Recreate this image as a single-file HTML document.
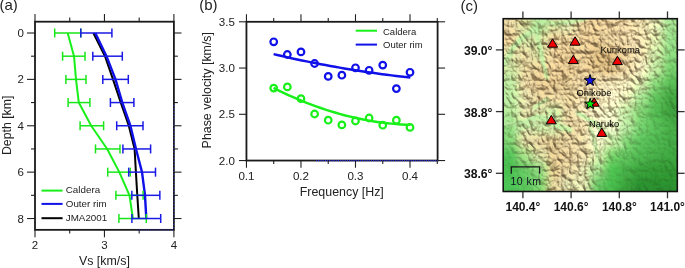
<!DOCTYPE html>
<html><head><meta charset="utf-8"><style>
html,body{margin:0;padding:0;background:#fff;width:685px;height:268px;overflow:hidden}
svg{display:block;will-change:transform}
text{font-family:"Liberation Sans",sans-serif}
</style></head><body>
<svg width="685" height="268" viewBox="0 0 685 268">
<text x="-0.60" y="10.40" font-size="15" text-anchor="start" fill="#222" >(a)</text>
<line x1="35.00" y1="21.70" x2="35.00" y2="14.10" stroke="#222" stroke-width="1.1" />
<line x1="35.00" y1="229.85" x2="35.00" y2="237.35" stroke="#222" stroke-width="1.1" />
<line x1="104.45" y1="21.70" x2="104.45" y2="14.10" stroke="#222" stroke-width="1.1" />
<line x1="104.45" y1="229.85" x2="104.45" y2="237.35" stroke="#222" stroke-width="1.1" />
<line x1="173.90" y1="21.70" x2="173.90" y2="14.10" stroke="#222" stroke-width="1.1" />
<line x1="173.90" y1="229.85" x2="173.90" y2="237.35" stroke="#222" stroke-width="1.1" />
<line x1="69.72" y1="21.70" x2="69.72" y2="17.40" stroke="#222" stroke-width="1.1" />
<line x1="69.72" y1="229.85" x2="69.72" y2="233.55" stroke="#222" stroke-width="1.1" />
<line x1="139.18" y1="21.70" x2="139.18" y2="17.40" stroke="#222" stroke-width="1.1" />
<line x1="139.18" y1="229.85" x2="139.18" y2="233.55" stroke="#222" stroke-width="1.1" />
<line x1="35.00" y1="33.00" x2="27.00" y2="33.00" stroke="#222" stroke-width="1.1" />
<line x1="173.90" y1="33.00" x2="181.50" y2="33.00" stroke="#222" stroke-width="1.1" />
<line x1="35.00" y1="79.38" x2="27.00" y2="79.38" stroke="#222" stroke-width="1.1" />
<line x1="173.90" y1="79.38" x2="181.50" y2="79.38" stroke="#222" stroke-width="1.1" />
<line x1="35.00" y1="125.76" x2="27.00" y2="125.76" stroke="#222" stroke-width="1.1" />
<line x1="173.90" y1="125.76" x2="181.50" y2="125.76" stroke="#222" stroke-width="1.1" />
<line x1="35.00" y1="172.14" x2="27.00" y2="172.14" stroke="#222" stroke-width="1.1" />
<line x1="173.90" y1="172.14" x2="181.50" y2="172.14" stroke="#222" stroke-width="1.1" />
<line x1="35.00" y1="218.52" x2="27.00" y2="218.52" stroke="#222" stroke-width="1.1" />
<line x1="173.90" y1="218.52" x2="181.50" y2="218.52" stroke="#222" stroke-width="1.1" />
<line x1="35.00" y1="56.19" x2="31.00" y2="56.19" stroke="#222" stroke-width="1.1" />
<line x1="173.90" y1="56.19" x2="177.90" y2="56.19" stroke="#222" stroke-width="1.1" />
<line x1="35.00" y1="102.57" x2="31.00" y2="102.57" stroke="#222" stroke-width="1.1" />
<line x1="173.90" y1="102.57" x2="177.90" y2="102.57" stroke="#222" stroke-width="1.1" />
<line x1="35.00" y1="148.95" x2="31.00" y2="148.95" stroke="#222" stroke-width="1.1" />
<line x1="173.90" y1="148.95" x2="177.90" y2="148.95" stroke="#222" stroke-width="1.1" />
<line x1="35.00" y1="195.33" x2="31.00" y2="195.33" stroke="#222" stroke-width="1.1" />
<line x1="173.90" y1="195.33" x2="177.90" y2="195.33" stroke="#222" stroke-width="1.1" />
<text x="23.80" y="37.00" font-size="11.5" text-anchor="end" fill="#222" >0</text>
<text x="23.80" y="83.38" font-size="11.5" text-anchor="end" fill="#222" >2</text>
<text x="23.80" y="129.76" font-size="11.5" text-anchor="end" fill="#222" >4</text>
<text x="23.80" y="176.14" font-size="11.5" text-anchor="end" fill="#222" >6</text>
<text x="23.80" y="222.52" font-size="11.5" text-anchor="end" fill="#222" >8</text>
<text x="35.00" y="249.20" font-size="11.5" text-anchor="middle" fill="#222" >2</text>
<text x="104.45" y="249.20" font-size="11.5" text-anchor="middle" fill="#222" >3</text>
<text x="173.90" y="249.20" font-size="11.5" text-anchor="middle" fill="#222" >4</text>
<text x="104.40" y="265.20" font-size="12.4" text-anchor="middle" fill="#222" >Vs [km/s]</text>
<text transform="translate(11.4,125.3) rotate(-90)" font-size="12.3" text-anchor="middle" fill="#222">Depth [km]</text>
<polyline points="67.70,33.00 74.00,56.19 76.00,79.38 78.80,102.57 91.20,125.76 107.20,148.95 119.30,172.14 129.50,195.33 132.90,218.52" fill="none" stroke="#19f019" stroke-width="2.0" stroke-linejoin="round"/>
<polyline points="93.40,33.00 105.00,56.19 113.00,79.38 120.80,102.57 128.80,125.76 134.60,148.95 135.90,172.14 137.30,195.33 138.80,218.52" fill="none" stroke="#000" stroke-width="2.0" stroke-linejoin="round"/>
<polyline points="95.30,33.00 106.50,56.19 115.50,79.38 122.30,102.57 130.40,125.76 136.00,148.95 142.00,172.14 145.00,195.33 146.30,218.52" fill="none" stroke="#1010e8" stroke-width="2.4" stroke-linejoin="round"/>
<line x1="54.70" y1="33.00" x2="80.80" y2="33.00" stroke="#19e619" stroke-width="1.5" />
<line x1="54.70" y1="28.50" x2="54.70" y2="37.50" stroke="#19e619" stroke-width="1.5" />
<line x1="80.80" y1="28.50" x2="80.80" y2="37.50" stroke="#19e619" stroke-width="1.5" />
<line x1="62.60" y1="56.19" x2="85.00" y2="56.19" stroke="#19e619" stroke-width="1.5" />
<line x1="62.60" y1="51.69" x2="62.60" y2="60.69" stroke="#19e619" stroke-width="1.5" />
<line x1="85.00" y1="51.69" x2="85.00" y2="60.69" stroke="#19e619" stroke-width="1.5" />
<line x1="65.90" y1="79.38" x2="86.00" y2="79.38" stroke="#19e619" stroke-width="1.5" />
<line x1="65.90" y1="74.88" x2="65.90" y2="83.88" stroke="#19e619" stroke-width="1.5" />
<line x1="86.00" y1="74.88" x2="86.00" y2="83.88" stroke="#19e619" stroke-width="1.5" />
<line x1="68.10" y1="102.57" x2="89.90" y2="102.57" stroke="#19e619" stroke-width="1.5" />
<line x1="68.10" y1="98.07" x2="68.10" y2="107.07" stroke="#19e619" stroke-width="1.5" />
<line x1="89.90" y1="98.07" x2="89.90" y2="107.07" stroke="#19e619" stroke-width="1.5" />
<line x1="80.10" y1="125.76" x2="103.60" y2="125.76" stroke="#19e619" stroke-width="1.5" />
<line x1="80.10" y1="121.26" x2="80.10" y2="130.26" stroke="#19e619" stroke-width="1.5" />
<line x1="103.60" y1="121.26" x2="103.60" y2="130.26" stroke="#19e619" stroke-width="1.5" />
<line x1="95.50" y1="148.95" x2="120.00" y2="148.95" stroke="#19e619" stroke-width="1.5" />
<line x1="95.50" y1="144.45" x2="95.50" y2="153.45" stroke="#19e619" stroke-width="1.5" />
<line x1="120.00" y1="144.45" x2="120.00" y2="153.45" stroke="#19e619" stroke-width="1.5" />
<line x1="107.70" y1="172.14" x2="130.30" y2="172.14" stroke="#19e619" stroke-width="1.5" />
<line x1="107.70" y1="167.64" x2="107.70" y2="176.64" stroke="#19e619" stroke-width="1.5" />
<line x1="130.30" y1="167.64" x2="130.30" y2="176.64" stroke="#19e619" stroke-width="1.5" />
<line x1="115.90" y1="195.33" x2="143.10" y2="195.33" stroke="#19e619" stroke-width="1.5" />
<line x1="115.90" y1="190.83" x2="115.90" y2="199.83" stroke="#19e619" stroke-width="1.5" />
<line x1="143.10" y1="190.83" x2="143.10" y2="199.83" stroke="#19e619" stroke-width="1.5" />
<line x1="118.90" y1="218.52" x2="146.30" y2="218.52" stroke="#19e619" stroke-width="1.5" />
<line x1="118.90" y1="214.02" x2="118.90" y2="223.02" stroke="#19e619" stroke-width="1.5" />
<line x1="146.30" y1="214.02" x2="146.30" y2="223.02" stroke="#19e619" stroke-width="1.5" />
<line x1="80.80" y1="33.00" x2="111.90" y2="33.00" stroke="#1a1ae6" stroke-width="1.5" />
<line x1="80.80" y1="28.50" x2="80.80" y2="37.50" stroke="#1a1ae6" stroke-width="1.5" />
<line x1="111.90" y1="28.50" x2="111.90" y2="37.50" stroke="#1a1ae6" stroke-width="1.5" />
<line x1="92.80" y1="56.19" x2="122.30" y2="56.19" stroke="#1a1ae6" stroke-width="1.5" />
<line x1="92.80" y1="51.69" x2="92.80" y2="60.69" stroke="#1a1ae6" stroke-width="1.5" />
<line x1="122.30" y1="51.69" x2="122.30" y2="60.69" stroke="#1a1ae6" stroke-width="1.5" />
<line x1="102.80" y1="79.38" x2="128.30" y2="79.38" stroke="#1a1ae6" stroke-width="1.5" />
<line x1="102.80" y1="74.88" x2="102.80" y2="83.88" stroke="#1a1ae6" stroke-width="1.5" />
<line x1="128.30" y1="74.88" x2="128.30" y2="83.88" stroke="#1a1ae6" stroke-width="1.5" />
<line x1="110.40" y1="102.57" x2="133.90" y2="102.57" stroke="#1a1ae6" stroke-width="1.5" />
<line x1="110.40" y1="98.07" x2="110.40" y2="107.07" stroke="#1a1ae6" stroke-width="1.5" />
<line x1="133.90" y1="98.07" x2="133.90" y2="107.07" stroke="#1a1ae6" stroke-width="1.5" />
<line x1="116.70" y1="125.76" x2="143.00" y2="125.76" stroke="#1a1ae6" stroke-width="1.5" />
<line x1="116.70" y1="121.26" x2="116.70" y2="130.26" stroke="#1a1ae6" stroke-width="1.5" />
<line x1="143.00" y1="121.26" x2="143.00" y2="130.26" stroke="#1a1ae6" stroke-width="1.5" />
<line x1="122.90" y1="148.95" x2="150.60" y2="148.95" stroke="#1a1ae6" stroke-width="1.5" />
<line x1="122.90" y1="144.45" x2="122.90" y2="153.45" stroke="#1a1ae6" stroke-width="1.5" />
<line x1="150.60" y1="144.45" x2="150.60" y2="153.45" stroke="#1a1ae6" stroke-width="1.5" />
<line x1="128.70" y1="172.14" x2="155.50" y2="172.14" stroke="#1a1ae6" stroke-width="1.5" />
<line x1="128.70" y1="167.64" x2="128.70" y2="176.64" stroke="#1a1ae6" stroke-width="1.5" />
<line x1="155.50" y1="167.64" x2="155.50" y2="176.64" stroke="#1a1ae6" stroke-width="1.5" />
<line x1="131.85" y1="195.33" x2="159.85" y2="195.33" stroke="#1a1ae6" stroke-width="1.5" />
<line x1="131.85" y1="190.83" x2="131.85" y2="199.83" stroke="#1a1ae6" stroke-width="1.5" />
<line x1="159.85" y1="190.83" x2="159.85" y2="199.83" stroke="#1a1ae6" stroke-width="1.5" />
<line x1="131.90" y1="218.52" x2="160.70" y2="218.52" stroke="#1a1ae6" stroke-width="1.5" />
<line x1="131.90" y1="214.02" x2="131.90" y2="223.02" stroke="#1a1ae6" stroke-width="1.5" />
<line x1="160.70" y1="214.02" x2="160.70" y2="223.02" stroke="#1a1ae6" stroke-width="1.5" />
<rect x="35.0" y="21.7" width="138.9" height="208.15" fill="none" stroke="#1a1a1a" stroke-width="1.8"/>
<line x1="137" y1="229.85" x2="173.9" y2="229.85" stroke="#2424e0" stroke-width="1.3" stroke-dasharray="1.1 1.1" opacity="0.6"/>
<line x1="173.9" y1="105" x2="173.9" y2="229.85" stroke="#3a3ad0" stroke-width="1.2" stroke-dasharray="1.1 2.2" opacity="0.8"/>
<line x1="41.50" y1="190.60" x2="62.60" y2="190.60" stroke="#19f019" stroke-width="2" />
<text x="65.80" y="193.40" font-size="9.8" text-anchor="start" fill="#222" >Caldera</text>
<line x1="41.50" y1="203.90" x2="62.60" y2="203.90" stroke="#1010e8" stroke-width="2" />
<text x="65.80" y="206.70" font-size="9.8" text-anchor="start" fill="#222" >Outer rim</text>
<line x1="41.50" y1="218.20" x2="62.60" y2="218.20" stroke="#000" stroke-width="2" />
<text x="65.80" y="220.90" font-size="9.8" text-anchor="start" fill="#222" >JMA2001</text>
<text x="199.20" y="10.40" font-size="15" text-anchor="start" fill="#222" >(b)</text>
<line x1="246.45" y1="21.80" x2="246.45" y2="14.20" stroke="#222" stroke-width="1.1" />
<line x1="246.45" y1="160.55" x2="246.45" y2="167.75" stroke="#222" stroke-width="1.1" />
<line x1="300.97" y1="21.80" x2="300.97" y2="14.20" stroke="#222" stroke-width="1.1" />
<line x1="300.97" y1="160.55" x2="300.97" y2="167.75" stroke="#222" stroke-width="1.1" />
<line x1="355.49" y1="21.80" x2="355.49" y2="14.20" stroke="#222" stroke-width="1.1" />
<line x1="355.49" y1="160.55" x2="355.49" y2="167.75" stroke="#222" stroke-width="1.1" />
<line x1="410.01" y1="21.80" x2="410.01" y2="14.20" stroke="#222" stroke-width="1.1" />
<line x1="410.01" y1="160.55" x2="410.01" y2="167.75" stroke="#222" stroke-width="1.1" />
<line x1="273.71" y1="21.80" x2="273.71" y2="17.90" stroke="#222" stroke-width="1.1" />
<line x1="273.71" y1="160.55" x2="273.71" y2="163.95" stroke="#222" stroke-width="1.1" />
<line x1="328.23" y1="21.80" x2="328.23" y2="17.90" stroke="#222" stroke-width="1.1" />
<line x1="328.23" y1="160.55" x2="328.23" y2="163.95" stroke="#222" stroke-width="1.1" />
<line x1="382.75" y1="21.80" x2="382.75" y2="17.90" stroke="#222" stroke-width="1.1" />
<line x1="382.75" y1="160.55" x2="382.75" y2="163.95" stroke="#222" stroke-width="1.1" />
<line x1="437.27" y1="21.80" x2="437.27" y2="17.90" stroke="#222" stroke-width="1.1" />
<line x1="437.27" y1="160.55" x2="437.27" y2="163.95" stroke="#222" stroke-width="1.1" />
<line x1="246.45" y1="160.55" x2="238.95" y2="160.55" stroke="#222" stroke-width="1.1" />
<line x1="437.60" y1="160.55" x2="445.10" y2="160.55" stroke="#222" stroke-width="1.1" />
<line x1="246.45" y1="114.30" x2="238.95" y2="114.30" stroke="#222" stroke-width="1.1" />
<line x1="437.60" y1="114.30" x2="445.10" y2="114.30" stroke="#222" stroke-width="1.1" />
<line x1="246.45" y1="68.05" x2="238.95" y2="68.05" stroke="#222" stroke-width="1.1" />
<line x1="437.60" y1="68.05" x2="445.10" y2="68.05" stroke="#222" stroke-width="1.1" />
<line x1="246.45" y1="21.80" x2="238.95" y2="21.80" stroke="#222" stroke-width="1.1" />
<line x1="437.60" y1="21.80" x2="445.10" y2="21.80" stroke="#222" stroke-width="1.1" />
<text x="234.90" y="164.55" font-size="11.6" text-anchor="end" fill="#222" >2.0</text>
<text x="234.90" y="118.30" font-size="11.6" text-anchor="end" fill="#222" >2.5</text>
<text x="234.90" y="72.05" font-size="11.6" text-anchor="end" fill="#222" >3.0</text>
<text x="234.90" y="25.80" font-size="11.6" text-anchor="end" fill="#222" >3.5</text>
<text x="246.45" y="179.80" font-size="11.6" text-anchor="middle" fill="#222" >0.1</text>
<text x="300.97" y="179.80" font-size="11.6" text-anchor="middle" fill="#222" >0.2</text>
<text x="355.49" y="179.80" font-size="11.6" text-anchor="middle" fill="#222" >0.3</text>
<text x="410.01" y="179.80" font-size="11.6" text-anchor="middle" fill="#222" >0.4</text>
<text x="341.80" y="196.20" font-size="12.4" text-anchor="middle" fill="#222" >Frequency [Hz]</text>
<text transform="translate(211.3,90.2) rotate(-90)" font-size="12.4" text-anchor="middle" fill="#222">Phase velocity [km/s]</text>
<polyline points="273.60,87.96 278.32,90.32 283.03,92.60 287.75,94.80 292.47,96.93 297.19,98.97 301.90,100.94 306.62,102.84 311.34,104.65 316.06,106.39 320.77,108.05 325.49,109.63 330.21,111.13 334.92,112.56 339.64,113.91 344.36,115.18 349.08,116.38 353.79,117.49 358.51,118.53 363.23,119.49 367.94,120.38 372.66,121.18 377.38,121.91 382.10,122.56 386.81,123.14 391.53,123.63 396.25,124.05 400.97,124.39 405.68,124.66 410.40,124.84" fill="none" stroke="#19f019" stroke-width="2.5"/>
<polyline points="273.60,54.13 278.32,55.23 283.03,56.31 287.75,57.37 292.47,58.41 297.19,59.42 301.90,60.42 306.62,61.39 311.34,62.35 316.06,63.28 320.77,64.19 325.49,65.08 330.21,65.95 334.92,66.80 339.64,67.63 344.36,68.44 349.08,69.23 353.79,70.00 358.51,70.74 363.23,71.47 367.94,72.17 372.66,72.85 377.38,73.52 382.10,74.16 386.81,74.78 391.53,75.38 396.25,75.96 400.97,76.52 405.68,77.05 410.40,77.57" fill="none" stroke="#1010e8" stroke-width="2.5"/>
<circle cx="273.71" cy="41.80" r="3.3" fill="none" stroke="#1010e8" stroke-width="2.2"/>
<circle cx="273.71" cy="88.10" r="3.3" fill="none" stroke="#19f019" stroke-width="2.2"/>
<circle cx="287.34" cy="54.50" r="3.3" fill="none" stroke="#1010e8" stroke-width="2.2"/>
<circle cx="287.34" cy="86.90" r="3.3" fill="none" stroke="#19f019" stroke-width="2.2"/>
<circle cx="300.97" cy="51.90" r="3.3" fill="none" stroke="#1010e8" stroke-width="2.2"/>
<circle cx="300.97" cy="98.70" r="3.3" fill="none" stroke="#19f019" stroke-width="2.2"/>
<circle cx="314.60" cy="63.50" r="3.3" fill="none" stroke="#1010e8" stroke-width="2.2"/>
<circle cx="314.60" cy="114.00" r="3.3" fill="none" stroke="#19f019" stroke-width="2.2"/>
<circle cx="328.23" cy="76.40" r="3.3" fill="none" stroke="#1010e8" stroke-width="2.2"/>
<circle cx="328.23" cy="120.20" r="3.3" fill="none" stroke="#19f019" stroke-width="2.2"/>
<circle cx="341.86" cy="75.20" r="3.3" fill="none" stroke="#1010e8" stroke-width="2.2"/>
<circle cx="341.86" cy="124.90" r="3.3" fill="none" stroke="#19f019" stroke-width="2.2"/>
<circle cx="355.49" cy="67.80" r="3.3" fill="none" stroke="#1010e8" stroke-width="2.2"/>
<circle cx="355.49" cy="121.00" r="3.3" fill="none" stroke="#19f019" stroke-width="2.2"/>
<circle cx="369.12" cy="70.30" r="3.3" fill="none" stroke="#1010e8" stroke-width="2.2"/>
<circle cx="369.12" cy="118.00" r="3.3" fill="none" stroke="#19f019" stroke-width="2.2"/>
<circle cx="382.75" cy="65.10" r="3.3" fill="none" stroke="#1010e8" stroke-width="2.2"/>
<circle cx="382.75" cy="125.20" r="3.3" fill="none" stroke="#19f019" stroke-width="2.2"/>
<circle cx="396.38" cy="88.60" r="3.3" fill="none" stroke="#1010e8" stroke-width="2.2"/>
<circle cx="396.38" cy="120.20" r="3.3" fill="none" stroke="#19f019" stroke-width="2.2"/>
<circle cx="410.01" cy="72.30" r="3.3" fill="none" stroke="#1010e8" stroke-width="2.2"/>
<circle cx="410.01" cy="127.40" r="3.3" fill="none" stroke="#19f019" stroke-width="2.2"/>
<rect x="246.45" y="21.8" width="191.15000000000003" height="138.75" fill="none" stroke="#1a1a1a" stroke-width="1.8"/>
<line x1="316" y1="160.55" x2="437.6" y2="160.55" stroke="#2424e0" stroke-width="1.3" stroke-dasharray="1.1 1.1"/>
<line x1="355.70" y1="30.70" x2="377.00" y2="30.70" stroke="#19f019" stroke-width="2" />
<text x="383.00" y="34.50" font-size="9.5" text-anchor="start" fill="#222" >Caldera</text>
<line x1="355.70" y1="44.60" x2="377.00" y2="44.60" stroke="#1010e8" stroke-width="2" />
<text x="383.00" y="48.00" font-size="9.5" text-anchor="start" fill="#222" >Outer rim</text>
<text x="460.50" y="10.60" font-size="15" text-anchor="start" fill="#222" >(c)</text>
<defs>
<clipPath id="mc"><rect x="503.2" y="18.7" width="174.10" height="172.80"/></clipPath>
<filter id="mb" x="-10%" y="-10%" width="120%" height="120%"><feGaussianBlur stdDeviation="4.5"/></filter>
<filter id="vb" x="-10%" y="-10%" width="120%" height="120%"><feGaussianBlur stdDeviation="1.3"/></filter>
<filter id="hs" x="0" y="0" width="100%" height="100%" color-interpolation-filters="sRGB"><feTurbulence type="turbulence" baseFrequency="0.13 0.11" numOctaves="4" seed="3" result="n"/><feDiffuseLighting in="n" surfaceScale="3.6" diffuseConstant="1.0" lighting-color="#fff" result="l0"><feDistantLight azimuth="300" elevation="50"/></feDiffuseLighting><feComponentTransfer in="l0" result="l"><feFuncR type="gamma" amplitude="1" exponent="0.9" offset="0"/><feFuncG type="gamma" amplitude="1.1" exponent="1.05" offset="0"/><feFuncB type="gamma" amplitude="1.25" exponent="1.3" offset="0"/></feComponentTransfer><feComposite in="SourceGraphic" in2="l" operator="arithmetic" k1="0.72" k2="0.55" k3="0" k4="0" result="tex"/><feColorMatrix in="SourceGraphic" type="matrix" values="0 0 0 0 0  0 0 0 0 0  0 0 0 0 0  2 -2 0 0 1.0" result="m"/><feComposite in="tex" in2="m" operator="in" result="tm"/><feMerge><feMergeNode in="SourceGraphic"/><feMergeNode in="tm"/></feMerge></filter>
</defs>
<g clip-path="url(#mc)">
<g filter="url(#hs)">
<g filter="url(#mb)">
<rect x="495.20" y="10.70" width="23.01" height="22.90" fill="#c8b385"/>
<rect x="517.71" y="10.70" width="15.01" height="22.90" fill="#b9b982"/>
<rect x="532.22" y="10.70" width="15.01" height="22.90" fill="#a0c882"/>
<rect x="546.73" y="10.70" width="15.01" height="22.90" fill="#b9b982"/>
<rect x="561.23" y="10.70" width="15.01" height="22.90" fill="#bec08f"/>
<rect x="575.74" y="10.70" width="15.01" height="22.90" fill="#cdb080"/>
<rect x="590.25" y="10.70" width="15.01" height="22.90" fill="#cdb080"/>
<rect x="604.76" y="10.70" width="15.01" height="22.90" fill="#cdb385"/>
<rect x="619.27" y="10.70" width="15.01" height="22.90" fill="#d2b88a"/>
<rect x="633.77" y="10.70" width="15.01" height="22.90" fill="#d4c294"/>
<rect x="648.28" y="10.70" width="15.01" height="22.90" fill="#c8c799"/>
<rect x="662.79" y="10.70" width="22.51" height="22.90" fill="#96cd82"/>
<rect x="495.20" y="33.10" width="23.01" height="14.90" fill="#cdb080"/>
<rect x="517.71" y="33.10" width="15.01" height="14.90" fill="#b4be87"/>
<rect x="532.22" y="33.10" width="15.01" height="14.90" fill="#b9bc84"/>
<rect x="546.73" y="33.10" width="15.01" height="14.90" fill="#cdb080"/>
<rect x="561.23" y="33.10" width="15.01" height="14.90" fill="#cdb080"/>
<rect x="575.74" y="33.10" width="15.01" height="14.90" fill="#cdb080"/>
<rect x="590.25" y="33.10" width="15.01" height="14.90" fill="#c8ac7b"/>
<rect x="604.76" y="33.10" width="15.01" height="14.90" fill="#cdb385"/>
<rect x="619.27" y="33.10" width="15.01" height="14.90" fill="#d2ba8f"/>
<rect x="633.77" y="33.10" width="15.01" height="14.90" fill="#d4c094"/>
<rect x="648.28" y="33.10" width="15.01" height="14.90" fill="#c3c891"/>
<rect x="662.79" y="33.10" width="22.51" height="14.90" fill="#8ccd7d"/>
<rect x="495.20" y="47.50" width="23.01" height="14.90" fill="#bebd8a"/>
<rect x="517.71" y="47.50" width="15.01" height="14.90" fill="#c8b685"/>
<rect x="532.22" y="47.50" width="15.01" height="14.90" fill="#b9bc84"/>
<rect x="546.73" y="47.50" width="15.01" height="14.90" fill="#cdb080"/>
<rect x="561.23" y="47.50" width="15.01" height="14.90" fill="#c6a978"/>
<rect x="575.74" y="47.50" width="15.01" height="14.90" fill="#cdb080"/>
<rect x="590.25" y="47.50" width="15.01" height="14.90" fill="#be9f6c"/>
<rect x="604.76" y="47.50" width="15.01" height="14.90" fill="#bc9c6a"/>
<rect x="619.27" y="47.50" width="15.01" height="14.90" fill="#c8ae80"/>
<rect x="633.77" y="47.50" width="15.01" height="14.90" fill="#d2c094"/>
<rect x="648.28" y="47.50" width="15.01" height="14.90" fill="#b9cd91"/>
<rect x="662.79" y="47.50" width="22.51" height="14.90" fill="#82c873"/>
<rect x="495.20" y="61.90" width="23.01" height="14.90" fill="#b2c387"/>
<rect x="517.71" y="61.90" width="15.01" height="14.90" fill="#c8b685"/>
<rect x="532.22" y="61.90" width="15.01" height="14.90" fill="#c8ae7e"/>
<rect x="546.73" y="61.90" width="15.01" height="14.90" fill="#cdb080"/>
<rect x="561.23" y="61.90" width="15.01" height="14.90" fill="#c6a978"/>
<rect x="575.74" y="61.90" width="15.01" height="14.90" fill="#cdb080"/>
<rect x="590.25" y="61.90" width="15.01" height="14.90" fill="#c3a471"/>
<rect x="604.76" y="61.90" width="15.01" height="14.90" fill="#be9f6c"/>
<rect x="619.27" y="61.90" width="15.01" height="14.90" fill="#cdb688"/>
<rect x="633.77" y="61.90" width="15.01" height="14.90" fill="#d4c79e"/>
<rect x="648.28" y="61.90" width="15.01" height="14.90" fill="#afcd8c"/>
<rect x="662.79" y="61.90" width="22.51" height="14.90" fill="#6ec364"/>
<rect x="495.20" y="76.30" width="23.01" height="14.90" fill="#a8cd8a"/>
<rect x="517.71" y="76.30" width="15.01" height="14.90" fill="#cdb688"/>
<rect x="532.22" y="76.30" width="15.01" height="14.90" fill="#c6aa7a"/>
<rect x="546.73" y="76.30" width="15.01" height="14.90" fill="#c3a674"/>
<rect x="561.23" y="76.30" width="15.01" height="14.90" fill="#c8ae7e"/>
<rect x="575.74" y="76.30" width="15.01" height="14.90" fill="#cdb68a"/>
<rect x="590.25" y="76.30" width="15.01" height="14.90" fill="#d2bd92"/>
<rect x="604.76" y="76.30" width="15.01" height="14.90" fill="#d7c79e"/>
<rect x="619.27" y="76.30" width="15.01" height="14.90" fill="#d7caa0"/>
<rect x="633.77" y="76.30" width="15.01" height="14.90" fill="#c3cd96"/>
<rect x="648.28" y="76.30" width="15.01" height="14.90" fill="#7dc86e"/>
<rect x="662.79" y="76.30" width="22.51" height="14.90" fill="#55b450"/>
<rect x="495.20" y="90.70" width="23.01" height="14.90" fill="#a8d28c"/>
<rect x="517.71" y="90.70" width="15.01" height="14.90" fill="#c6bd8f"/>
<rect x="532.22" y="90.70" width="15.01" height="14.90" fill="#c8b080"/>
<rect x="546.73" y="90.70" width="15.01" height="14.90" fill="#cdb688"/>
<rect x="561.23" y="90.70" width="15.01" height="14.90" fill="#c8b080"/>
<rect x="575.74" y="90.70" width="15.01" height="14.90" fill="#d2bd92"/>
<rect x="590.25" y="90.70" width="15.01" height="14.90" fill="#d7c499"/>
<rect x="604.76" y="90.70" width="15.01" height="14.90" fill="#dccea6"/>
<rect x="619.27" y="90.70" width="15.01" height="14.90" fill="#cdcd9b"/>
<rect x="633.77" y="90.70" width="15.01" height="14.90" fill="#96cd82"/>
<rect x="648.28" y="90.70" width="15.01" height="14.90" fill="#5ab955"/>
<rect x="662.79" y="90.70" width="22.51" height="14.90" fill="#41a03e"/>
<rect x="495.20" y="105.10" width="23.01" height="14.90" fill="#a5d48a"/>
<rect x="517.71" y="105.10" width="15.01" height="14.90" fill="#c3ba8a"/>
<rect x="532.22" y="105.10" width="15.01" height="14.90" fill="#bebe8a"/>
<rect x="546.73" y="105.10" width="15.01" height="14.90" fill="#b2ca8c"/>
<rect x="561.23" y="105.10" width="15.01" height="14.90" fill="#c8b385"/>
<rect x="575.74" y="105.10" width="15.01" height="14.90" fill="#d4c299"/>
<rect x="590.25" y="105.10" width="15.01" height="14.90" fill="#d7cca3"/>
<rect x="604.76" y="105.10" width="15.01" height="14.90" fill="#d2d1a6"/>
<rect x="619.27" y="105.10" width="15.01" height="14.90" fill="#afd08e"/>
<rect x="633.77" y="105.10" width="15.01" height="14.90" fill="#78c669"/>
<rect x="648.28" y="105.10" width="15.01" height="14.90" fill="#50b44e"/>
<rect x="662.79" y="105.10" width="22.51" height="14.90" fill="#3c983a"/>
<rect x="495.20" y="119.50" width="23.01" height="14.90" fill="#87ca76"/>
<rect x="517.71" y="119.50" width="15.01" height="14.90" fill="#bec08f"/>
<rect x="532.22" y="119.50" width="15.01" height="14.90" fill="#afc88a"/>
<rect x="546.73" y="119.50" width="15.01" height="14.90" fill="#b4c88c"/>
<rect x="561.23" y="119.50" width="15.01" height="14.90" fill="#c8b082"/>
<rect x="575.74" y="119.50" width="15.01" height="14.90" fill="#cdb88a"/>
<rect x="590.25" y="119.50" width="15.01" height="14.90" fill="#dcd4ab"/>
<rect x="604.76" y="119.50" width="15.01" height="14.90" fill="#d4d6ab"/>
<rect x="619.27" y="119.50" width="15.01" height="14.90" fill="#a8d08e"/>
<rect x="633.77" y="119.50" width="15.01" height="14.90" fill="#6ec666"/>
<rect x="648.28" y="119.50" width="15.01" height="14.90" fill="#58bc56"/>
<rect x="662.79" y="119.50" width="22.51" height="14.90" fill="#46aa44"/>
<rect x="495.20" y="133.90" width="23.01" height="14.90" fill="#78c86c"/>
<rect x="517.71" y="133.90" width="15.01" height="14.90" fill="#c3b888"/>
<rect x="532.22" y="133.90" width="15.01" height="14.90" fill="#c8b082"/>
<rect x="546.73" y="133.90" width="15.01" height="14.90" fill="#c3ac7c"/>
<rect x="561.23" y="133.90" width="15.01" height="14.90" fill="#c8b385"/>
<rect x="575.74" y="133.90" width="15.01" height="14.90" fill="#cab88a"/>
<rect x="590.25" y="133.90" width="15.01" height="14.90" fill="#d7d1a8"/>
<rect x="604.76" y="133.90" width="15.01" height="14.90" fill="#bcd094"/>
<rect x="619.27" y="133.90" width="15.01" height="14.90" fill="#78c66c"/>
<rect x="633.77" y="133.90" width="15.01" height="14.90" fill="#5abc58"/>
<rect x="648.28" y="133.90" width="15.01" height="14.90" fill="#4eb24e"/>
<rect x="662.79" y="133.90" width="22.51" height="14.90" fill="#44a844"/>
<rect x="495.20" y="148.30" width="23.01" height="14.90" fill="#50be55"/>
<rect x="517.71" y="148.30" width="15.01" height="14.90" fill="#96c878"/>
<rect x="532.22" y="148.30" width="15.01" height="14.90" fill="#bebd8a"/>
<rect x="546.73" y="148.30" width="15.01" height="14.90" fill="#c3a978"/>
<rect x="561.23" y="148.30" width="15.01" height="14.90" fill="#c8b082"/>
<rect x="575.74" y="148.30" width="15.01" height="14.90" fill="#cdba8f"/>
<rect x="590.25" y="148.30" width="15.01" height="14.90" fill="#c8cd96"/>
<rect x="604.76" y="148.30" width="15.01" height="14.90" fill="#6ec864"/>
<rect x="619.27" y="148.30" width="15.01" height="14.90" fill="#5fbc5a"/>
<rect x="633.77" y="148.30" width="15.01" height="14.90" fill="#4eb24e"/>
<rect x="648.28" y="148.30" width="15.01" height="14.90" fill="#44a844"/>
<rect x="662.79" y="148.30" width="22.51" height="14.90" fill="#3ea23e"/>
<rect x="495.20" y="162.70" width="23.01" height="14.90" fill="#48be50"/>
<rect x="517.71" y="162.70" width="15.01" height="14.90" fill="#64c35f"/>
<rect x="532.22" y="162.70" width="15.01" height="14.90" fill="#87c876"/>
<rect x="546.73" y="162.70" width="15.01" height="14.90" fill="#c3aa78"/>
<rect x="561.23" y="162.70" width="15.01" height="14.90" fill="#c8b385"/>
<rect x="575.74" y="162.70" width="15.01" height="14.90" fill="#c8c294"/>
<rect x="590.25" y="162.70" width="15.01" height="14.90" fill="#96cb80"/>
<rect x="604.76" y="162.70" width="15.01" height="14.90" fill="#4bc350"/>
<rect x="619.27" y="162.70" width="15.01" height="14.90" fill="#46ac46"/>
<rect x="633.77" y="162.70" width="15.01" height="14.90" fill="#379b37"/>
<rect x="648.28" y="162.70" width="15.01" height="14.90" fill="#329632"/>
<rect x="662.79" y="162.70" width="22.51" height="14.90" fill="#329432"/>
<rect x="495.20" y="177.10" width="23.01" height="22.40" fill="#4bc355"/>
<rect x="517.71" y="177.10" width="15.01" height="22.40" fill="#5ac35a"/>
<rect x="532.22" y="177.10" width="15.01" height="22.40" fill="#73c866"/>
<rect x="546.73" y="177.10" width="15.01" height="22.40" fill="#c6b080"/>
<rect x="561.23" y="177.10" width="15.01" height="22.40" fill="#c3c092"/>
<rect x="575.74" y="177.10" width="15.01" height="22.40" fill="#c8c496"/>
<rect x="590.25" y="177.10" width="15.01" height="22.40" fill="#64bc5f"/>
<rect x="604.76" y="177.10" width="15.01" height="22.40" fill="#46bc4b"/>
<rect x="619.27" y="177.10" width="15.01" height="22.40" fill="#379b37"/>
<rect x="633.77" y="177.10" width="15.01" height="22.40" fill="#2a8c2d"/>
<rect x="648.28" y="177.10" width="15.01" height="22.40" fill="#2a8c2d"/>
<rect x="662.79" y="177.10" width="22.51" height="22.40" fill="#2a8c2d"/>
</g>
<g filter="url(#vb)" fill="none" stroke="#a8d48e" stroke-linecap="round" stroke-linejoin="round" opacity="0.85">
<polyline points="542,17 537,27 530,33 521,39 513,48 508,58 502,65" stroke-width="5.0"/>
<polyline points="537,27 538,40 541,53 544,66 547,78" stroke-width="3.5"/>
<polyline points="544,22 555,24 568,22 585,19" stroke-width="3.5"/>
<polyline points="502,123 515,124 525,122 537,117 548,120 560,127 570,130" stroke-width="5.0"/>
<polyline points="534,108 541,103 548,99" stroke-width="3.0"/>
<polyline points="516,131 525,127 532,125" stroke-width="3.0"/>
<polyline points="578,113 586,118 594,122 602,130 612,138 622,146" stroke-width="4.0"/>
<polyline points="590,125 594,140 598,155 600,170" stroke-width="3.0"/>
</g>
</g>
</g>
<polygon points="552.60,38.80 547.60,47.20 557.60,47.20" fill="#f00000" stroke="#000" stroke-width="1" stroke-linejoin="miter"/>
<polygon points="575.10,36.80 570.10,45.20 580.10,45.20" fill="#f00000" stroke="#000" stroke-width="1" stroke-linejoin="miter"/>
<polygon points="573.30,55.20 568.30,63.60 578.30,63.60" fill="#f00000" stroke="#000" stroke-width="1" stroke-linejoin="miter"/>
<polygon points="617.40,56.20 612.40,64.60 622.40,64.60" fill="#f00000" stroke="#000" stroke-width="1" stroke-linejoin="miter"/>
<polygon points="594.20,97.80 589.20,106.20 599.20,106.20" fill="#f00000" stroke="#000" stroke-width="1" stroke-linejoin="miter"/>
<polygon points="551.30,115.40 546.30,123.80 556.30,123.80" fill="#f00000" stroke="#000" stroke-width="1" stroke-linejoin="miter"/>
<polygon points="601.80,128.00 596.80,136.40 606.80,136.40" fill="#f00000" stroke="#000" stroke-width="1" stroke-linejoin="miter"/>
<polygon points="590.00,74.60 591.41,78.66 595.71,78.75 592.28,81.34 593.53,85.45 590.00,83.00 586.47,85.45 587.72,81.34 584.29,78.75 588.59,78.66" fill="#1515e0" stroke="#000" stroke-width="1" stroke-linejoin="miter"/>
<polygon points="590.20,98.20 591.56,102.12 595.72,102.21 592.41,104.72 593.61,108.69 590.20,106.32 586.79,108.69 587.99,104.72 584.68,102.21 588.84,102.12" fill="#10e010" stroke="#000" stroke-width="1" stroke-linejoin="miter"/>
<text x="600.40" y="53.00" font-size="9.4" text-anchor="start" fill="#000" >Kurikoma</text>
<text x="576.50" y="95.80" font-size="9.4" text-anchor="start" fill="#000" >Onikobe</text>
<text x="588.90" y="126.60" font-size="9.4" text-anchor="start" fill="#000" >Naruko</text>
<path d="M511.3,173.8 V166.8 H539.6 V173.8" fill="none" stroke="#1a1a1a" stroke-width="1.3"/>
<text x="510.40" y="185.20" font-size="10.5" text-anchor="start" fill="#112" textLength="30.5">10 km</text>
<line x1="522.90" y1="18.70" x2="522.90" y2="11.40" stroke="#333" stroke-width="1.3" />
<line x1="522.90" y1="191.50" x2="522.90" y2="198.30" stroke="#333" stroke-width="1.3" />
<line x1="571.10" y1="18.70" x2="571.10" y2="11.40" stroke="#333" stroke-width="1.3" />
<line x1="571.10" y1="191.50" x2="571.10" y2="198.30" stroke="#333" stroke-width="1.3" />
<line x1="619.30" y1="18.70" x2="619.30" y2="11.40" stroke="#333" stroke-width="1.3" />
<line x1="619.30" y1="191.50" x2="619.30" y2="198.30" stroke="#333" stroke-width="1.3" />
<line x1="667.50" y1="18.70" x2="667.50" y2="11.40" stroke="#333" stroke-width="1.3" />
<line x1="667.50" y1="191.50" x2="667.50" y2="198.30" stroke="#333" stroke-width="1.3" />
<line x1="503.20" y1="49.90" x2="495.90" y2="49.90" stroke="#333" stroke-width="1.3" />
<line x1="677.30" y1="49.90" x2="684.60" y2="49.90" stroke="#333" stroke-width="1.3" />
<line x1="503.20" y1="111.60" x2="495.90" y2="111.60" stroke="#333" stroke-width="1.3" />
<line x1="677.30" y1="111.60" x2="684.60" y2="111.60" stroke="#333" stroke-width="1.3" />
<line x1="503.20" y1="173.30" x2="495.90" y2="173.30" stroke="#333" stroke-width="1.3" />
<line x1="677.30" y1="173.30" x2="684.60" y2="173.30" stroke="#333" stroke-width="1.3" />
<rect x="503.2" y="18.7" width="174.09999999999997" height="172.8" fill="none" stroke="#111" stroke-width="1.6"/>
<text x="522.90" y="210.70" font-size="12" text-anchor="middle" fill="#111" font-weight="bold">140.4°</text>
<text x="571.10" y="210.70" font-size="12" text-anchor="middle" fill="#111" font-weight="bold">140.6°</text>
<text x="619.30" y="210.70" font-size="12" text-anchor="middle" fill="#111" font-weight="bold">140.8°</text>
<text x="667.50" y="210.70" font-size="12" text-anchor="middle" fill="#111" font-weight="bold">141.0°</text>
<text x="492.50" y="54.80" font-size="12.2" text-anchor="end" fill="#111" font-weight="bold">39.0°</text>
<text x="492.50" y="116.50" font-size="12.2" text-anchor="end" fill="#111" font-weight="bold">38.8°</text>
<text x="492.50" y="178.20" font-size="12.2" text-anchor="end" fill="#111" font-weight="bold">38.6°</text>
</svg>
</body></html>
